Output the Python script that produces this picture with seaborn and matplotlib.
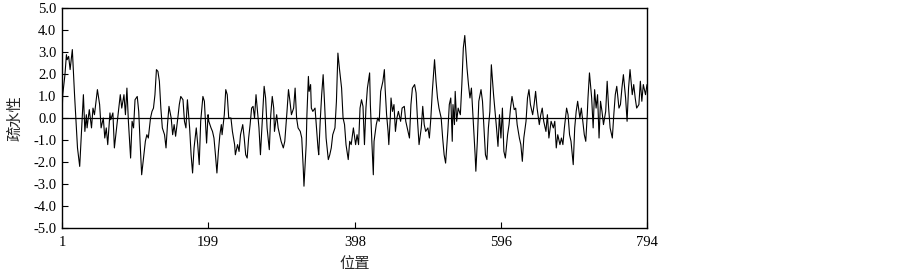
# 疏水性曲线（位置 1–794）
import matplotlib
matplotlib.use("Agg")
import matplotlib.pyplot as plt
import seaborn as sns
import pandas as pd

# 数据：位置与疏水性
positions = [
    1, 2, 5, 7, 8, 10, 12, 15, 18, 22, 25, 27, 30, 32, 34, 35, 38, 41, 43, 45,
    49, 52, 54, 57, 59, 61, 63, 66, 67, 70, 72, 75, 78, 80, 82, 85, 87, 89, 91, 94,
    96, 98, 100, 103, 105, 107, 109, 112, 114, 116, 118, 121, 123, 125, 127, 129, 131, 133, 135, 137,
    140, 142, 144, 146, 149, 151, 153, 155, 158, 160, 162, 165, 167, 169, 171, 174, 176, 178, 180, 183,
    185, 187, 189, 192, 194, 197, 199, 200, 203, 205, 207, 209, 211, 213, 215, 217, 218, 221, 223, 225,
    227, 230, 232, 235, 236, 239, 241, 243, 246, 248, 250, 252, 254, 256, 258, 260, 262, 264, 266, 268,
    270, 273, 275, 277, 279, 282, 284, 286, 288, 289, 292, 294, 296, 298, 301, 303, 306, 308, 310, 312,
    315, 317, 319, 321, 324, 326, 328, 329, 332, 333, 335, 336, 338, 339, 341, 344, 346, 348, 349, 351,
    353, 355, 357, 359, 362, 364, 366, 368, 371, 373, 375, 377, 380, 382, 384, 386, 389, 391, 393, 396,
    399, 401, 403, 405, 407, 409, 411, 413, 415, 418, 419, 421, 423, 424, 427, 429, 431, 433, 436, 438,
    439, 441, 443, 444, 446, 447, 449, 451, 453, 455, 457, 460, 462, 465, 467, 470, 472, 474, 476, 479,
    481, 483, 485, 488, 490, 492, 494, 497, 499, 501, 503, 506, 508, 510, 512, 515, 517, 519, 521, 524,
    526, 528, 530, 531, 533, 534, 536, 538, 541, 543, 545, 547, 550, 552, 554, 556, 559, 561, 562, 564,
    566, 569, 571, 573, 575, 577, 579, 581, 583, 586, 588, 590, 592, 594, 596, 598, 600, 602, 605, 607,
    609, 611, 614, 616, 618, 621, 623, 625, 627, 630, 632, 634, 636, 639, 641, 643, 645, 648, 650, 652,
    654, 657, 659, 661, 664, 667, 669, 671, 673, 676, 678, 680, 682, 685, 687, 689, 691, 694, 696, 698,
    700, 703, 705, 707, 709, 711, 713, 714, 716, 719, 721, 723, 725, 727, 729, 731, 733, 735, 738, 740,
    742, 744, 747, 749, 751, 753, 756, 758, 760, 762, 765, 767, 769, 771, 774, 776, 778, 780, 783, 785,
    787, 789, 792, 794,
]
hydrophobicity = [
    0.08, 1.06, 1.97, 2.88, 2.65, 2.80, 2.20, 3.11, 1.06, -1.36, -2.20, -0.91, 1.06, -0.61, 0.15, -0.45, 0.38, -0.45, 0.45, 0.15,
    1.29, 0.61, -0.45, 0.0, -0.91, -0.45, -1.21, 0.23, -0.08, 0.23, -1.36, -0.45, 0.45, 1.06, 0.45, 1.06, 0.15, 1.36, -0.15, -1.82,
    -0.15, -0.45, 0.83, 0.98, 0.30, -1.21, -2.58, -1.67, -1.06, -0.76, -0.91, 0.0, 0.30, 0.45, 1.06, 2.20, 2.12, 1.67, 0.45, -0.45,
    -0.76, -1.36, -0.30, 0.53, 0.0, -0.76, -0.30, -0.83, 0.0, 0.61, 0.98, 0.83, -0.15, -0.45, 0.83, -0.45, -1.67, -2.50, -1.36, -0.45,
    -1.21, -2.12, -0.15, 0.98, 0.76, -1.14, 0.15, -0.15, -0.45, -0.61, -0.91, -1.67, -2.50, -1.52, -0.76, -0.30, -0.76, 0.15, 1.29, 1.06,
    0.0, 0.0, -0.61, -1.21, -1.67, -1.21, -1.52, -0.76, -0.30, -0.91, -1.67, -1.82, -0.91, -0.30, 0.45, 0.53, 0.0, 1.06, 0.30, -0.45,
    -1.67, 0.15, 1.44, 0.91, -0.45, -1.44, 0.15, 0.98, 0.45, -0.61, 0.15, -0.45, -0.76, -1.06, -1.36, -1.06, 0.30, 1.29, 0.76, 0.15,
    0.45, 1.36, 0.0, -0.45, -0.61, -0.91, -2.27, -3.10, -1.21, 0.15, 1.89, 1.21, 1.52, 0.45, 0.30, 0.45, -0.45, -1.36, -1.67, -0.15,
    1.06, 1.97, 0.61, -0.91, -1.89, -1.67, -1.36, -0.76, -0.45, 0.76, 2.95, 2.27, 1.36, 0.0, -0.30, -1.21, -1.89, -1.06, -1.21, -0.45,
    -1.21, -0.76, -1.21, 0.45, 0.83, 0.53, -1.21, 0.45, 1.36, 2.05, 0.61, -1.06, -2.58, -1.06, -0.30, 0.0, -0.15, 1.21, 1.67, 2.20,
    1.36, 0.15, -0.61, -1.21, 0.0, 0.91, 0.30, 0.61, -0.61, 0.0, 0.30, -0.15, 0.45, 0.53, -0.15, -0.61, -0.91, 0.61, 1.36, 1.52,
    1.14, -0.15, -1.21, -0.45, 0.53, -0.30, -0.61, -0.45, -0.91, 0.0, 1.21, 2.65, 1.67, 0.91, 0.45, 0.0, -0.91, -1.67, -2.05, -0.61,
    0.61, 0.91, -1.06, 0.61, -0.30, 1.21, -0.15, 0.45, 0.15, 1.52, 3.18, 3.75, 2.27, 1.52, 0.91, 1.36, -0.45, -1.67, -2.42, -1.06,
    0.76, 1.29, 0.76, -0.45, -1.67, -1.89, -0.45, 0.30, 2.42, 1.06, 0.30, -0.45, -1.29, 0.15, -0.91, 0.45, -1.52, -1.82, -0.76, -0.30,
    0.45, 0.98, 0.38, 0.45, -0.30, -0.91, -1.21, -1.97, -0.91, -0.15, 0.91, 1.29, 0.61, 0.15, 0.61, 1.21, 0.45, -0.30, 0.15, 0.45,
    -0.15, -0.61, 0.15, -0.91, -0.15, -0.45, -0.15, -1.36, -0.76, -1.21, -0.91, -1.21, -0.45, 0.45, 0.15, -0.76, -1.06, -2.12, -0.45, 0.30,
    0.76, 0.0, 0.45, -0.15, -0.76, -1.06, 0.15, 0.91, 2.05, 0.91, -0.45, 1.29, 0.45, 1.06, -0.91, 0.76, 0.30, -0.30, 0.30, 1.67,
    0.45, -0.45, -0.91, 0.15, 1.06, 1.44, 0.45, 0.61, 1.36, 1.97, 0.91, -0.15, 1.36, 2.20, 1.06, 1.52, 0.91, 0.45, 0.61, 1.67,
    0.76, 1.52, 1.06, 1.52,
]

x_ticks = [1, 199, 398, 596, 794]
y_ticks = [-5.0, -4.0, -3.0, -2.0, -1.0, 0.0, 1.0, 2.0, 3.0, 4.0, 5.0]

df = pd.DataFrame({"位置": positions, "疏水性": hydrophobicity})

sns.set_style("ticks")
plt.rcParams["axes.unicode_minus"] = False
tick_font = "Liberation Serif"
cjk_font = ["Noto Sans CJK SC", "DejaVu Sans"]

fig = plt.figure(figsize=(9.03, 2.76), dpi=100)
ax = fig.add_axes([62 / 903, 1 - 228 / 276, (647 - 62) / 903, (228 - 8) / 276])

sns.lineplot(data=df, x="位置", y="疏水性", color="black", linewidth=0.8, ax=ax)
ax.axhline(0, color="black", linewidth=0.9)

ax.set_xlim(1, 794)
ax.set_ylim(-5, 5)
ax.set_xticks(x_ticks)
ax.set_xticklabels([str(t) for t in x_ticks], fontfamily=tick_font, fontsize=10.5)
ax.set_yticks(y_ticks)
ax.set_yticklabels([f"{t:.1f}" for t in y_ticks], fontfamily=tick_font, fontsize=10.5)
ax.tick_params(direction="in", length=4, width=0.8, colors="black")
ax.tick_params(axis="x", pad=6)
ax.tick_params(axis="y", pad=4)

for side in ["left", "right", "top", "bottom"]:
    ax.spines[side].set_visible(True)
    ax.spines[side].set_color("black")
    ax.spines[side].set_linewidth(1.0)

ax.set_xlabel("位置", family=cjk_font, fontsize=11, labelpad=4)
ax.set_ylabel("疏水性", family=cjk_font, fontsize=11, labelpad=7)

fig.savefig("out.png", dpi=100)
